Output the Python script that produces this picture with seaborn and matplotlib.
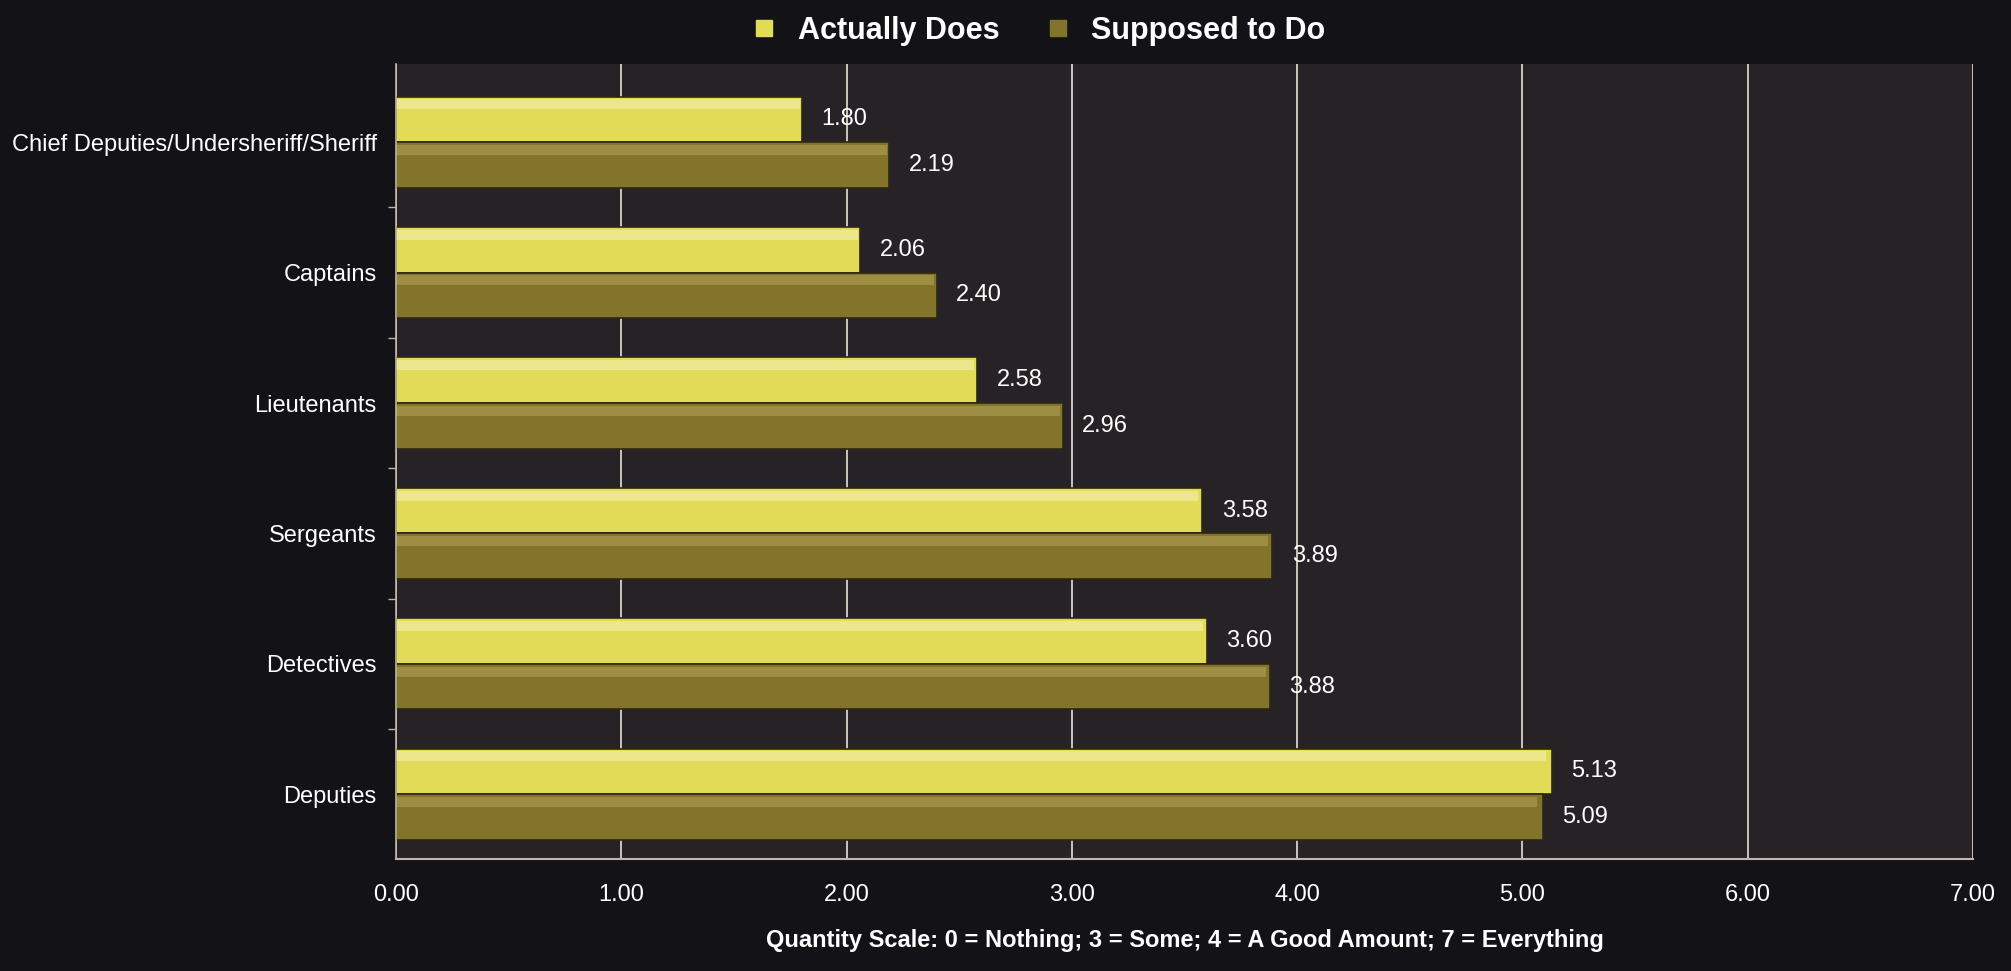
import numpy as np
import pandas as pd
import matplotlib
matplotlib.use('Agg')
import matplotlib.pyplot as plt
from matplotlib.patches import Rectangle
import seaborn as sns

# data
ranks = ['Chief Deputies/Undersheriff/Sheriff', 'Captains', 'Lieutenants',
         'Sergeants', 'Detectives', 'Deputies']
actually_does = [1.80, 2.06, 2.58, 3.58, 3.60, 5.13]
supposed_to_do = [2.19, 2.40, 2.96, 3.89, 3.88, 5.09]
series = ['Actually Does', 'Supposed to Do']
x_ticks = [0, 1, 2, 3, 4, 5, 6, 7]

df = pd.DataFrame({
    'Rank': ranks * 2,
    'Score': actually_does + supposed_to_do,
    'Series': [series[0]] * len(ranks) + [series[1]] * len(ranks),
})

sns.set_theme(style='dark')
plt.rcParams['font.family'] = ['Liberation Sans Narrow', 'Liberation Sans', 'DejaVu Sans']

fig_bg = '#131216'
ax_bg = '#272225'
colors = {'Actually Does': '#e2db58', 'Supposed to Do': '#82752b'}
highlights = {'Actually Does': '#f6f2b8', 'Supposed to Do': '#b5a458'}

fig = plt.figure(figsize=(20.11, 9.71), dpi=100, facecolor=fig_bg)
ax = fig.add_axes([0.197, 0.115, 0.784, 0.819])
ax.set_facecolor(ax_bg)

sns.barplot(data=df, x='Score', y='Rank', hue='Series', orient='h',
            palette=colors, width=0.7, edgecolor='#2e2812', linewidth=1.2,
            saturation=1, ax=ax, legend=False)

# light strip along the top of each bar for a bevelled look
for cont, s in zip(ax.containers, series):
    for p in cont.patches:
        ax.add_patch(Rectangle((p.get_x(), p.get_y() + p.get_height() * 0.06),
                               p.get_width() * 0.995, p.get_height() * 0.22,
                               facecolor=highlights[s], edgecolor='none', alpha=0.55))

for cont in ax.containers:
    ax.bar_label(cont, fmt='%.2f', padding=14, color='white', fontsize=17)

ax.set_xlim(0, 7)
ax.set_ylim(5.5, -0.6)
ax.set_xticks(x_ticks)
ax.set_xticklabels([f'{v:.2f}' for v in x_ticks], color='white', fontsize=17)
ax.tick_params(axis='x', length=10, color='#cfc8c0', pad=8)
ax.tick_params(axis='y', length=0, labelsize=17, labelcolor='white', pad=14)
# small marks between the groups
ax.set_yticks(np.arange(0.5, len(ranks) - 0.5, 1), minor=True)
ax.tick_params(axis='y', which='minor', length=6, color='#bdb6ae', left=True)

ax.grid(axis='x', color='#d8d2ca', linewidth=1.3)
ax.grid(axis='y', visible=False)
ax.set_axisbelow(True)
for side in ['top', 'right']:
    ax.spines[side].set_visible(False)
ax.spines['bottom'].set_color('#bfb7a8')
ax.spines['bottom'].set_linewidth(1.5)
ax.spines['left'].set_color('#bfb7a8')
ax.spines['left'].set_linewidth(1.2)

ax.set_ylabel('')
ax.set_xlabel('Quantity Scale: 0 = Nothing; 3 = Some; 4 = A Good Amount; 7 = Everything',
              color='white', fontsize=17, fontweight='bold', labelpad=16)

handles = [plt.Line2D([], [], marker='s', linestyle='', markersize=11,
                      markerfacecolor=colors[s], markeredgecolor=colors[s]) for s in series]
fig.legend(handles, series, loc='upper center', bbox_to_anchor=(0.512, 1.012), ncol=2,
           frameon=False, prop={'weight': 'bold', 'size': 22}, labelcolor='white',
           handletextpad=0.1, columnspacing=0.9)

fig.savefig('out.png', dpi=100, facecolor=fig_bg)
